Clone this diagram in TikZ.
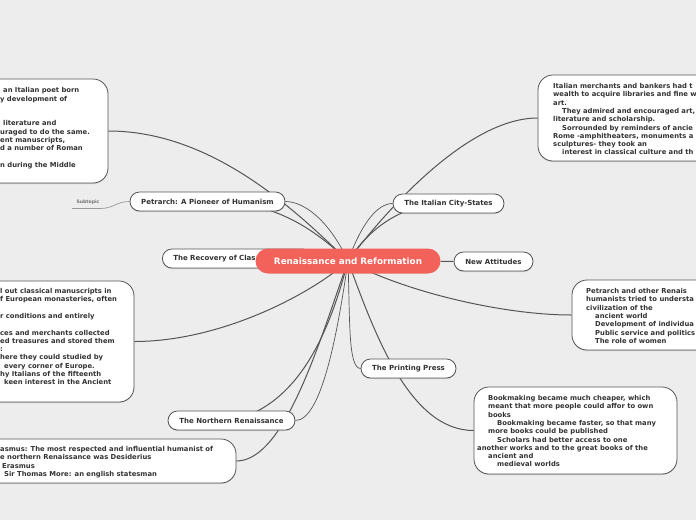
\documentclass[tikz,border=0pt]{standalone}
\usepackage{fontspec}
\setmainfont{DejaVu Sans}
\usetikzlibrary{backgrounds,shadows}
\definecolor{canvas}{HTML}{EDEDED}
\definecolor{rootred}{HTML}{F2625A}
\definecolor{linegray}{HTML}{555555}
\definecolor{ink}{HTML}{333333}
\newcommand{\ind}{\hspace*{9pt}}

\begin{document}
\begin{tikzpicture}[x=1pt, y=-1pt,
  every node/.style={font=\bfseries\fontsize{7}{8.3}\selectfont, text=ink},
  rootnode/.style={fill=rootred, rounded corners=12.5pt, minimum width=185pt,
                   minimum height=25pt, text=white,
                   font=\bfseries\fontsize{8.8}{10}\selectfont},
  topicnode/.style={draw=linegray, line width=0.8pt, fill=white,
                    rounded corners=9.5pt, minimum height=19pt, inner sep=0pt,
                    drop shadow={shadow xshift=0pt, shadow yshift=-1pt, opacity=0.3}},
  cardnode/.style={draw=linegray, line width=0.8pt, fill=white,
                   rounded corners=15pt,
                   drop shadow={shadow xshift=0pt, shadow yshift=-1pt, opacity=0.3}},
  bodytext/.style={align=left, anchor=north west, inner sep=0pt,
                   font=\bfseries\fontsize{6.8}{8.3}\selectfont},
  link/.style={draw=linegray, line width=1pt},
  twig/.style={draw=linegray, line width=0.7pt}
]
\useasboundingbox (0,0) rectangle (696,520);
\clip (0,0) rectangle (696,520);

% topics
\node[topicnode, anchor=west, text width=128pt, align=left, inner xsep=11pt]
  (recovery) at (162,258.5) {The Recovery of Clas};
\node[rootnode] (root) at (348,261) {Renaissance and Reformation};
\node[topicnode, minimum width=155pt] (petrarch) at (207.5,201.5) {Petrarch: A Pioneer of Humanism};
\node[topicnode, minimum width=111pt] (city) at (448.5,203.5) {The Italian City-States};
\node[topicnode, minimum width=79pt] (attitudes) at (493.5,261.5) {New Attitudes};
\node[topicnode, minimum width=95pt] (press) at (408.5,368.5) {The Printing Press};
\node[topicnode, minimum width=127pt] (north) at (231.5,420.5) {The Northern Renaissance};

\node[font=\bfseries\fontsize{4.6}{5}\selectfont, text=black!55, inner sep=1pt]
  (sub) at (88,202.5) {Subtopic};
\coordinate (subend) at (72,208.5);

% detail cards
\node[cardnode, minimum width=128pt, minimum height=104pt] (tlcard) at (44,131) {};
\node[cardnode, minimum width=182pt, minimum height=86pt] (trcard) at (629,118) {};
\node[cardnode, minimum width=154pt, minimum height=121pt] (lmcard) at (57,341.5) {};
\node[cardnode, minimum width=148pt, minimum height=70pt] (rmcard) at (646,315) {};
\node[cardnode, minimum width=203pt, minimum height=87pt] (brcard) at (575.5,430.5) {};
\node[cardnode, minimum width=256pt, minimum height=44pt] (blcard) at (108,461) {};

\node[bodytext] (tltext) at (0,87.4) {\hspace*{3pt}an Italian poet born\\
  y development of\\[16.6pt]
  \hspace*{3pt}literature and\\
  uraged to do the same.\\
  ent manuscripts,\\
  d a number of Roman\\[8.3pt]
  n during the Middle};
\node[bodytext] (trtext) at (553,83.2) {Italian merchants and bankers had t\\
  wealth to acquire libraries and fine w\\
  art.\\
  \ind They admired and encouraged art,\\
  literature and scholarship.\\
  \ind Sorrounded by reminders of ancie\\
  Rome -amphitheaters, monuments a\\
  sculptures- they took an\\
  \ind interest in classical culture and th};
\node[bodytext] (lmtext) at (0,288.2) {l out classical manuscripts in\\
  f European monasteries, often\\[8.3pt]
  r conditions and entirely\\[8.3pt]
  ces and merchants collected\\
  ed treasures and stored them\\
  :\\
  here they could studied by\\
  \hspace*{4pt}every corner of Europe.\\
  hy Italians of the fifteenth\\
  \hspace*{4pt}keen interest in the Ancient};
\node[bodytext] (rmtext) at (586,288.2) {Petrarch and other Renais\\
  humanists tried to understa\\
  civilization of the\\
  \ind ancient world\\
  \ind Development of individua\\
  \ind Public service and politics\\
  \ind The role of women};
\node[bodytext] (brtext) at (488,395.2) {Bookmaking became much cheaper, which\\
  meant that more people could affor to own\\
  books\\
  \ind Bookmaking became faster, so that many\\
  more books could be published\\
  \ind Scholars had better access to one\\
  \hspace*{-11pt}another works and to the great books of the\\
  ancient and\\
  \ind medieval worlds};
\node[bodytext] (bltext) at (0,446.2) {asmus: The most respected and influential humanist of\\
  e northern Renaissance was Desiderius\\
  \hspace*{2pt}Erasmus\\
  \hspace*{4pt}Sir Thomas More: an english statesman};

\begin{scope}[on background layer]
\fill[canvas] (0,0) rectangle (696,520);
% branches to topics
\draw[link] (root.center) .. controls (300,215) and (260,201.5) .. (petrarch.center);
\draw[link] (root.center) .. controls (375,220) and (410,203.5) .. (city.center);
\draw[link] (root.center) .. controls (330,330) and (300,405) .. (north.center);
\draw[link] (root) -- (recovery);
\draw[link] (root) -- (attitudes);
% branches to cards
\draw[link] (root.center) .. controls (300,215) and (215,131) .. (tlcard.east);
\draw[link] (root.center) .. controls (390,205) and (470,118) .. (trcard.west);
\draw[link] (root.center) .. controls (310,295) and (220,341.5) .. (lmcard.east);
\draw[link] (root.center) .. controls (400,290) and (500,315) .. (rmcard.west);
\draw[link] (root.center) .. controls (375,335) and (410,430.5) .. (brcard.west);
\draw[link] (root.center) .. controls (320,340) and (285,461) .. (blcard.east);
% thin curves to topic ends
\draw[twig] (root.center) .. controls (330,222) and (305,201.5) .. (petrarch.east);
\draw[twig] (root.center) .. controls (362,222) and (378,203.5) .. (city.west);
\draw[twig] (root.center) .. controls (350,320) and (348,368.5) .. (press.west);
\draw[twig] (root.center) .. controls (338,330) and (322,420.5) .. (north.east);
\draw[twig, draw=black!40] (petrarch.west) .. controls (116,201.5) and (114,208.5)
  .. (100,208.5) -- (subend);
\end{scope}
\end{tikzpicture}
\end{document}
